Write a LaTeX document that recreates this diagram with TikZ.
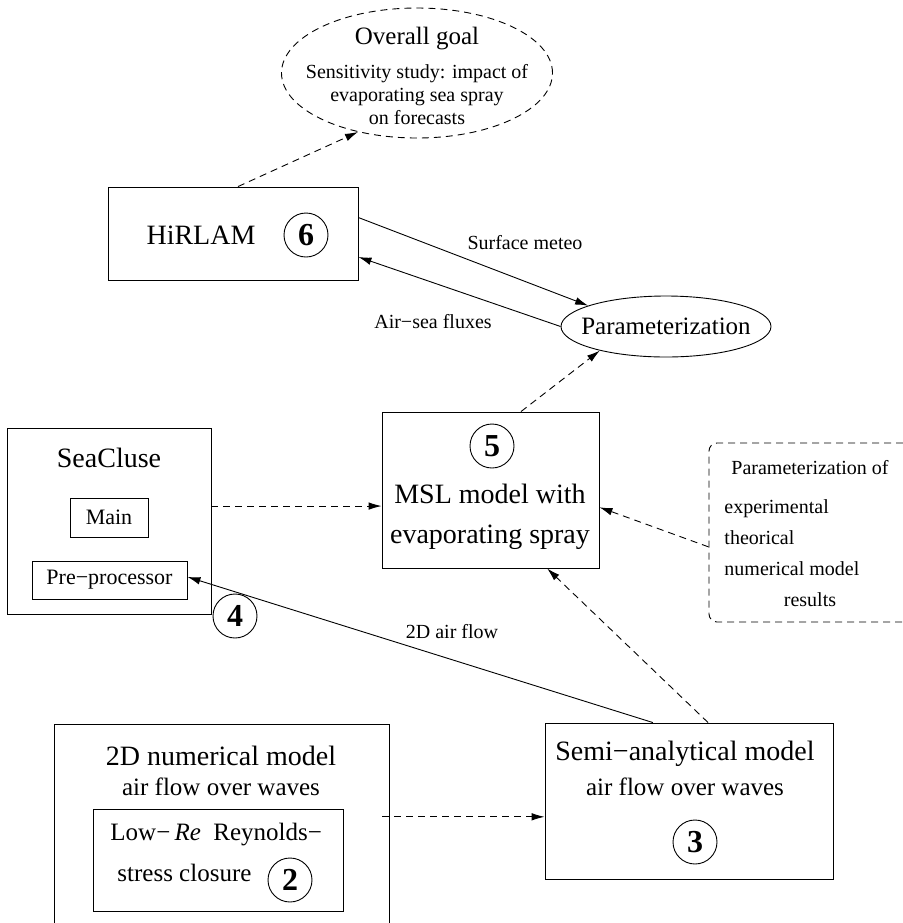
\documentclass[tikz,border=0pt]{standalone}
\usepackage{fontspec}
\setmainfont{Liberation Serif}
\usepackage{tikz}
\usetikzlibrary{shapes.geometric, arrows.meta, calc}

\tikzset{
	box/.style={draw, line width=0.45pt, inner sep=0pt},
	num/.style={draw, circle, line width=0.45pt, inner sep=0pt, minimum size=22pt, font=\fontsize{16}{16}\selectfont\bfseries},
	dashline/.style={dash pattern=on 3.5pt off 2.5pt},
	big/.style={font=\fontsize{14}{20}\selectfont},
	mid/.style={font=\fontsize{12.5}{14}\selectfont},
	small/.style={font=\fontsize{10}{11.5}\selectfont}
}

\begin{document}
\begin{tikzpicture}[x=0.5pt, y=-0.5pt, line width=0.45pt, >={Latex[length=6.5pt,width=3.8pt]}]
	\useasboundingbox (0,0) rectangle (903,923);
	
	\node [ellipse, draw, dashline, inner sep=0pt, minimum width=135.5pt, minimum height=65pt] (goal) at (417,73) {};
	\node [mid] (goaltitle) at (417,39) {Overall goal};
	\node [small, align=center] (goaltext) at (417,95) {Sensitivity study: impact of\\evaporating sea spray\\on forecasts};
	
	\node [box, minimum width=125pt, minimum height=46.5pt] (hirlam) at (233,233.5) {};
	\node [big] (hirlamtext) at (201,235) {HiRLAM};
	\node [num] (six) at (306,235) {6};
	
	\node [ellipse, draw, inner sep=0pt, minimum width=105pt, minimum height=30.5pt] (param) at (666,326.5) {};
	\node [mid] (paramtext) at (param) {Parameterization};
	
	\node [box, minimum width=108.5pt, minimum height=78pt] (msl) at (490.5,490) {};
	\node [num] (five) at (492,446) {5};
	\node [big, align=center] (msltext) at (490,517) {MSL model with\\evaporating spray};
	
	\node [box, dashline, rounded corners=4pt, minimum width=101pt, minimum height=89.5pt] (refbox) at (810,532.5) {};
	\node [small] (reftitle) at (810,468) {Parameterization of};
	\node [font=\fontsize{10}{15.5}\selectfont, align=left, anchor=west, inner xsep=0pt] (reflist) at (724,538) {experimental\\theorical\\numerical model};
	\node [small] (refend) at (810,600) {results};
	
	\node [box, minimum width=102pt, minimum height=93pt] (seacluse) at (109,521) {};
	\node [big] (seatitle) at (109,458) {SeaCluse};
	\node [box, font=\fontsize{11}{13}\selectfont, minimum width=39pt, minimum height=19.5pt] (main) at (109,517.5) {Main};
	\node [box, font=\fontsize{11}{13}\selectfont, minimum width=77.5pt, minimum height=19pt] (prep) at (109.5,580) {Pre−processor};
	\node [num] (four) at (235,616) {4};
	
	\node [box, minimum width=167.5pt, minimum height=108pt] (numeric) at (221.5,832) {};
	\node [big] (numtitle) at (221,756) {2D numerical model};
	\node [mid] (numsub) at (221,787) {air flow over waves};
	\node [box, minimum width=125pt, minimum height=51pt] (closure) at (218,860) {};
	\node [mid, anchor=west, inner xsep=0pt] (closuretop) at (110,835) {Low−\thinspace\textit{Re}\enspace Reynolds−};
	\node [mid, anchor=west, inner xsep=0pt] (closurebot) at (117,873) {stress closure};
	\node [num] (two) at (290,880) {2};
	
	\node [box, minimum width=144pt, minimum height=78pt] (semi) at (689,801) {};
	\node [big] (semititle) at (685,754) {Semi−analytical model};
	\node [mid] (semisub) at (685,787) {air flow over waves};
	\node [num] (three) at (695,842) {3};
	
	\draw [dashline, ->] ($(hirlam.north west)!0.52!(hirlam.north east)$) -- (goal.225);
	\draw [->] ($(hirlam.north east)!0.33!(hirlam.south east)$) -- (param.165);
	\draw [->] (param.west) -- ($(hirlam.north east)!0.75!(hirlam.south east)$);
	\node [small] (meteo) at (525,243) {Surface meteo};
	\node [small] (fluxes) at (433,322) {Air−sea fluxes};
	\draw [dashline, ->] ($(msl.north west)!0.64!(msl.north east)$) -- (param.200);
	
	\coordinate (seaout) at ($(seacluse.north east)!0.42!(seacluse.south east)$);
	\draw [dashline, ->] (seaout) -- (seaout -| msl.west);
	\draw [dashline, ->] ($(refbox.north west)!0.58!(refbox.south west)$) -- ($(msl.north east)!0.61!(msl.south east)$);
	\draw [dashline, ->] ($(semi.north west)!0.566!(semi.north east)$) -- ($(msl.south west)!0.76!(msl.south east)$);
	\draw [->] ($(semi.north west)!0.375!(semi.north east)$) -- ($(prep.north east)!0.42!(prep.south east)$);
	\node [small] (airflow) at (452,632) {2D air flow};
	
	\coordinate (numout) at ([xshift=-3.5pt]$(numeric.north east)!0.43!(numeric.south east)$);
	\draw [dashline, ->] (numout) -- (numout -| semi.west);
\end{tikzpicture}
\end{document}
